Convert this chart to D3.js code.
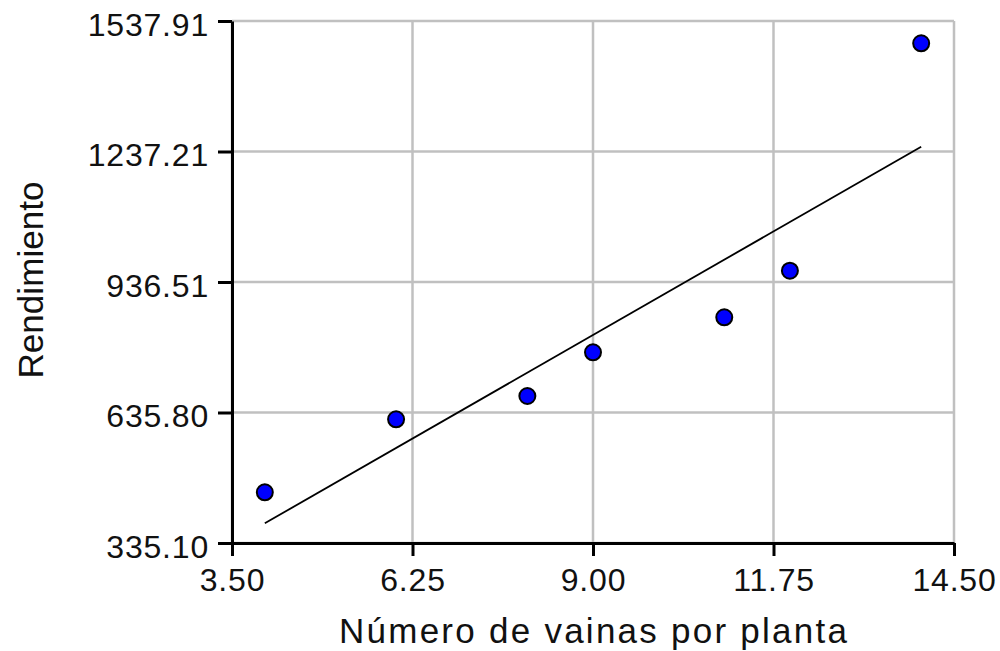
<!DOCTYPE html>
<html>
<head>
<meta charset="utf-8">
<script src="https://cdn.jsdelivr.net/npm/d3@7"></script>
<style>
  html, body { margin: 0; padding: 0; background: #fff; }
  svg { display: block; }
</style>
</head>
<body>
<svg id="chart" width="1000" height="651"></svg>
<script>
// Observed pods per plant vs. yield
const vainas = [4, 6, 8, 9, 11, 12, 14];
const rendimiento = [451.9, 620.1, 673.8, 774.5, 855.2, 962.5, 1486.5];

// Fitted straight line, endpoints
const ajusteX = [4, 14];
const ajusteY = [380.5, 1248.3];

// Axis ticks and their labels
const xTicks = [3.5, 6.25, 9.0, 11.75, 14.5];
const xTickLabels = ["3.50", "6.25", "9.00", "11.75", "14.50"];
const yTicks = [335.10, 635.80, 936.51, 1237.21, 1537.91];
const yTickLabels = ["335.10", "635.80", "936.51", "1237.21", "1537.91"];

const xTitle = "Número de vainas por planta";
const yTitle = "Rendimiento";

const FONT = "'Liberation Sans', Arial, sans-serif";

const svg = d3.select("#chart");
const plotL = 232, plotR = 954, plotT = 21, plotB = 543;

const x = d3.scaleLinear().domain([xTicks[0], xTicks[xTicks.length - 1]]).range([plotL, plotR]);
const y = d3.scaleLinear().domain([yTicks[0], yTicks[yTicks.length - 1]]).range([plotB, plotT]);

// Grid
const grid = svg.append("g").attr("stroke", "#c0c0c0").attr("stroke-width", 2.5);
grid.selectAll("line.gx").data(xTicks).join("line")
  .attr("class", "gx")
  .attr("x1", d => x(d)).attr("x2", d => x(d))
  .attr("y1", plotT).attr("y2", plotB);
grid.selectAll("line.gy").data(yTicks).join("line")
  .attr("class", "gy")
  .attr("x1", plotL).attr("x2", plotR)
  .attr("y1", d => y(d)).attr("y2", d => y(d));

// Left axis
const yAxis = d3.axisLeft(y)
  .tickValues(yTicks)
  .tickFormat((d, i) => yTickLabels[i])
  .tickSize(14)
  .tickSizeOuter(0)
  .tickPadding(10);
const gy = svg.append("g").attr("transform", `translate(${plotL},0)`).call(yAxis);
gy.select(".domain").attr("stroke", "#000").attr("stroke-width", 3);
gy.selectAll(".tick line").attr("stroke", "#000").attr("stroke-width", 3);
gy.selectAll(".tick text")
  .attr("font-family", FONT).attr("font-size", 32).attr("fill", "#111")
  .attr("letter-spacing", 0.8)
  .attr("x", -23).attr("dy", "0.44em");

// Bottom axis
const xAxis = d3.axisBottom(x)
  .tickValues(xTicks)
  .tickFormat((d, i) => xTickLabels[i])
  .tickSize(13)
  .tickSizeOuter(0);
const gx = svg.append("g").attr("transform", `translate(0,${plotB})`).call(xAxis);
gx.select(".domain").attr("stroke", "#000").attr("stroke-width", 3);
gx.selectAll(".tick line").attr("stroke", "#000").attr("stroke-width", 3);
gx.selectAll(".tick text")
  .attr("font-family", FONT).attr("font-size", 32).attr("fill", "#111")
  .attr("letter-spacing", 0.8)
  .attr("y", 48).attr("dy", 0);

// Axis titles
svg.append("text")
  .attr("x", (plotL + plotR) / 2).attr("y", 643)
  .attr("text-anchor", "middle")
  .attr("font-family", FONT).attr("font-size", 35).attr("fill", "#111")
  .attr("textLength", 508).attr("lengthAdjust", "spacing")
  .text(xTitle);

svg.append("text")
  .attr("transform", `translate(43,${(plotT + plotB) / 2 - 2}) rotate(-90)`)
  .attr("text-anchor", "middle")
  .attr("font-family", FONT).attr("font-size", 35).attr("fill", "#111")
  .attr("textLength", 197).attr("lengthAdjust", "spacing")
  .text(yTitle);

// Fitted line
const fit = ajusteX.map((d, i) => [d, ajusteY[i]]);
svg.append("path")
  .datum(fit)
  .attr("fill", "none").attr("stroke", "#000").attr("stroke-width", 1.8)
  .attr("d", d3.line().x(d => x(d[0])).y(d => y(d[1])));

// Observed points
const pts = vainas.map((d, i) => ({ v: d, r: rendimiento[i] }));
svg.append("g").selectAll("circle").data(pts).join("circle")
  .attr("cx", d => x(d.v)).attr("cy", d => y(d.r))
  .attr("r", 8)
  .attr("fill", "#0000ff").attr("stroke", "#000").attr("stroke-width", 2);
</script>
</body>
</html>
